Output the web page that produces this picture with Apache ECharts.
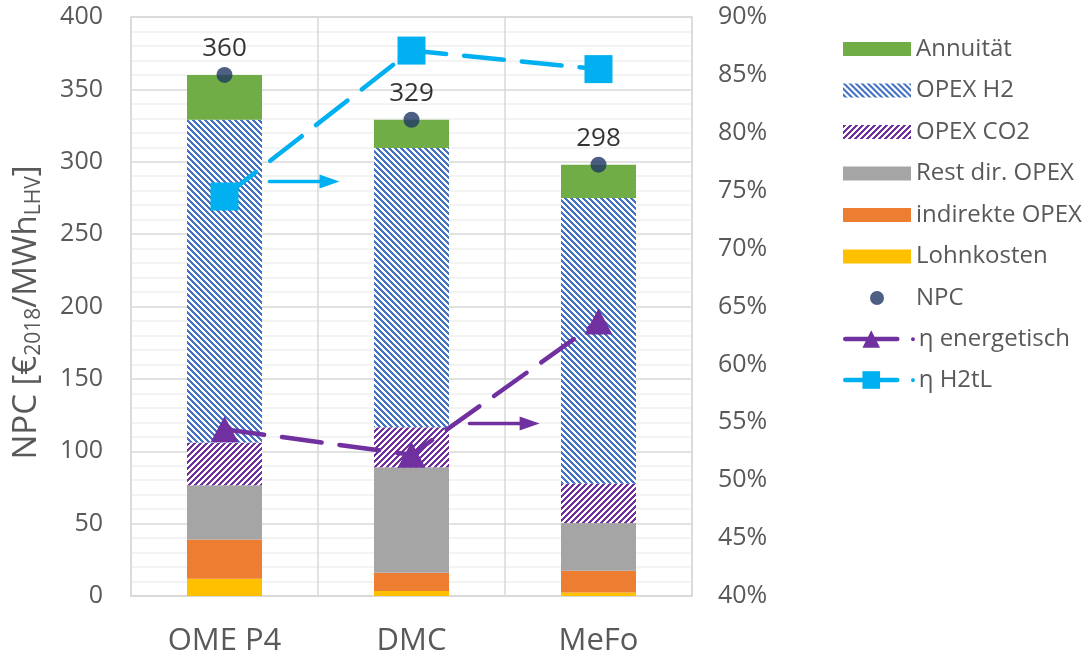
<!DOCTYPE html>
<html>
<head>
<meta charset="utf-8">
<script src="https://cdn.jsdelivr.net/npm/echarts@6/dist/echarts.min.js"></script>
<style>
  html, body { margin: 0; padding: 0; background: #ffffff; }
  #chart { width: 1092px; height: 662px; }
</style>
</head>
<body>
<div id="chart"></div>
<script>
// Cost breakdown per process route (€2018 per MWh LHV), stacked bottom to top
const categories = ['OME P4', 'DMC', 'MeFo'];
const lohnkosten = [12, 3.5, 2.5];
const indirekteOpex = [27, 12.5, 15];
const restDirOpex = [37.5, 73, 33];
const opexCO2 = [29.5, 27.5, 27];
const opexH2 = [223, 193, 197.5];
const annuitaet = [31, 19.5, 23];
const npc = [360, 329, 298];

// Efficiencies in percent (right axis)
const etaEnergetisch = [54.4, 52.2, 63.7];
const etaH2tL = [74.5, 87.1, 85.5];

// Axis ranges
const npcAxis = { min: 0, max: 400, interval: 50 };
const etaAxis = { min: 40, max: 90, interval: 5 };

const FONT = 'Open Sans';
const GREY_TEXT = '#595959';
const GRID_LINE = '#D9D9D9';

// Diagonal hatch fill as a repeating canvas pattern
function hatch(color, dir) {
  const s = 6, w = 3;
  const c = document.createElement('canvas');
  c.width = s; c.height = s;
  const ctx = c.getContext('2d');
  ctx.fillStyle = '#ffffff';
  ctx.fillRect(0, 0, s, s);
  ctx.fillStyle = color;
  for (let y = 0; y < s; y++) {
    for (let x = 0; x < s; x++) {
      const k = dir === 'back' ? (((x - y) % s) + s) % s : (x + y) % s;
      if (k < w) ctx.fillRect(x, y, 1, 1);
    }
  }
  return { image: c, repeat: 'repeat' };
}

const blueHatch = hatch('#4472C4', 'back');
const purpleHatch = hatch('#7030A0', 'fwd');

function barSeries(name, data, color) {
  return {
    name: name,
    type: 'bar',
    stack: 'npc',
    barWidth: 75,
    data: data,
    itemStyle: { color: color },
    emphasis: { disabled: true }
  };
}

const chart = echarts.init(document.getElementById('chart'), null, { renderer: 'canvas' });

const option = {
  animation: false,
  textStyle: { fontFamily: FONT },
  grid: {
    left: 131, right: 400, top: 17, bottom: 66,
    show: true, borderColor: GRID_LINE, borderWidth: 1.5,
    outerBoundsMode: 'none'
  },
  legend: [
    {
      orient: 'vertical',
      left: 838, top: 30,
      itemWidth: 68, itemHeight: 14, itemGap: 13.5,
      textStyle: { fontFamily: FONT, fontSize: 24, color: GREY_TEXT, lineHeight: 28 },
      data: [
        { name: 'Annuität', icon: 'rect' },
        { name: 'OPEX H2', icon: 'rect' },
        { name: 'OPEX CO2', icon: 'rect' },
        { name: 'Rest dir. OPEX', icon: 'rect' },
        { name: 'indirekte OPEX', icon: 'rect' },
        { name: 'Lohnkosten', icon: 'rect' },
        { name: 'NPC' }
      ],
      selectedMode: false
    },
    {
      orient: 'vertical',
      left: 838, top: 320,
      itemWidth: 52, itemHeight: 22, itemGap: 13,
      lineStyle: { type: 'solid', width: 4.5 },
      textStyle: {
        fontFamily: FONT, fontSize: 24, color: GREY_TEXT, lineHeight: 28,
        rich: {
          dp: { color: '#7030A0', fontSize: 9, padding: [0, 3, 0, 8] },
          db: { color: '#00B0F0', fontSize: 9, padding: [0, 3, 0, 8] }
        }
      },
      formatter: function (name) {
        return (name === 'η energetisch' ? '{dp|●}' : '{db|●}') + name;
      },
      data: ['η energetisch', 'η H2tL'],
      selectedMode: false
    }
  ],
  xAxis: {
    type: 'category',
    data: categories,
    axisLine: { show: true, lineStyle: { color: GRID_LINE, width: 1.5 } },
    axisTick: { show: false },
    axisLabel: { fontFamily: FONT, fontSize: 31, color: GREY_TEXT, margin: 30 },
    splitLine: { show: true, lineStyle: { color: GRID_LINE, width: 1.5 } }
  },
  yAxis: [
    {
      type: 'value',
      min: npcAxis.min, max: npcAxis.max, interval: npcAxis.interval,
      name: 'NPC [€{sub|2018}/MWh{sub|LHV}]',
      nameLocation: 'middle',
      nameGap: 86,
      nameRotate: 90,
      nameTextStyle: {
        fontFamily: FONT, fontSize: 33, color: GREY_TEXT,
        padding: [0, 12, 0, 0],
        rich: {
          sub: { fontFamily: FONT, fontSize: 21, color: GREY_TEXT, padding: [15, 0, 0, 0] }
        }
      },
      axisLine: { show: false },
      axisTick: { show: false },
      axisLabel: { fontFamily: FONT, fontSize: 25, color: GREY_TEXT, margin: 28 },
      splitLine: { show: true, lineStyle: { color: GRID_LINE, width: 1.5 } },
      minorTick: { show: false, splitNumber: 5 },
      minorSplitLine: { show: true, lineStyle: { color: '#F0F0F0', width: 1.5 } }
    },
    {
      type: 'value',
      position: 'right',
      min: etaAxis.min, max: etaAxis.max, interval: etaAxis.interval,
      axisLine: { show: false },
      axisTick: { show: false },
      axisLabel: { fontFamily: FONT, fontSize: 25, color: GREY_TEXT, margin: 26, formatter: '{value}%' },
      splitLine: { show: false }
    }
  ],
  series: [
    barSeries('Lohnkosten', lohnkosten, '#FFC000'),
    barSeries('indirekte OPEX', indirekteOpex, '#ED7D31'),
    barSeries('Rest dir. OPEX', restDirOpex, '#A5A5A5'),
    barSeries('OPEX CO2', opexCO2, purpleHatch),
    barSeries('OPEX H2', opexH2, blueHatch),
    barSeries('Annuität', annuitaet, '#70AD47'),
    {
      name: 'NPC',
      type: 'scatter',
      data: npc,
      symbol: 'circle',
      symbolSize: 16,
      itemStyle: { color: '#203864' },
      label: {
        show: true, position: 'top', distance: 5,
        fontFamily: FONT, fontSize: 26, color: '#000000'
      },
      emphasis: { disabled: true },
      z: 5
    },
    {
      name: 'η energetisch',
      type: 'line',
      yAxisIndex: 1,
      data: etaEnergetisch,
      symbol: 'triangle',
      symbolSize: [28, 26],
      itemStyle: { color: '#7030A0' },
      lineStyle: { color: '#7030A0', width: 4.5, type: [40, 18], cap: 'round' },
      emphasis: { disabled: true },
      z: 6
    },
    {
      name: 'η H2tL',
      type: 'line',
      yAxisIndex: 1,
      data: etaH2tL,
      symbol: 'rect',
      symbolSize: 28,
      itemStyle: { color: '#00B0F0' },
      lineStyle: { color: '#00B0F0', width: 4.5, type: [40, 18], cap: 'round' },
      emphasis: { disabled: true },
      z: 6
    }
  ]
};

chart.setOption(option);

// Arrows pointing the efficiency curves towards the right-hand axis
function axisArrow(catIndex, from, to, value, color) {
  const x0 = chart.convertToPixel({ xAxisIndex: 0 }, categories[0]);
  const x1 = chart.convertToPixel({ xAxisIndex: 0 }, categories[1]);
  const band = x1 - x0;
  const cx = chart.convertToPixel({ xAxisIndex: 0 }, categories[catIndex]);
  const y = chart.convertToPixel({ yAxisIndex: 1 }, value);
  const xs = cx + from * band;
  const xe = cx + to * band;
  const head = 20, half = 7;
  return [
    {
      type: 'line',
      shape: { x1: xs, y1: y, x2: xe - head + 2, y2: y },
      style: { stroke: color, lineWidth: 3.5, lineCap: 'round' },
      z: 10
    },
    {
      type: 'polygon',
      shape: { points: [[xe, y], [xe - head, y - half], [xe - head, y + half]] },
      style: { fill: color },
      z: 10
    }
  ];
}

chart.setOption({
  graphic: [].concat(
    axisArrow(0, 0.24, 0.615, 75.8, '#00B0F0'),
    axisArrow(1, 0.31, 0.685, 54.9, '#7030A0')
  )
});
</script>
</body>
</html>
